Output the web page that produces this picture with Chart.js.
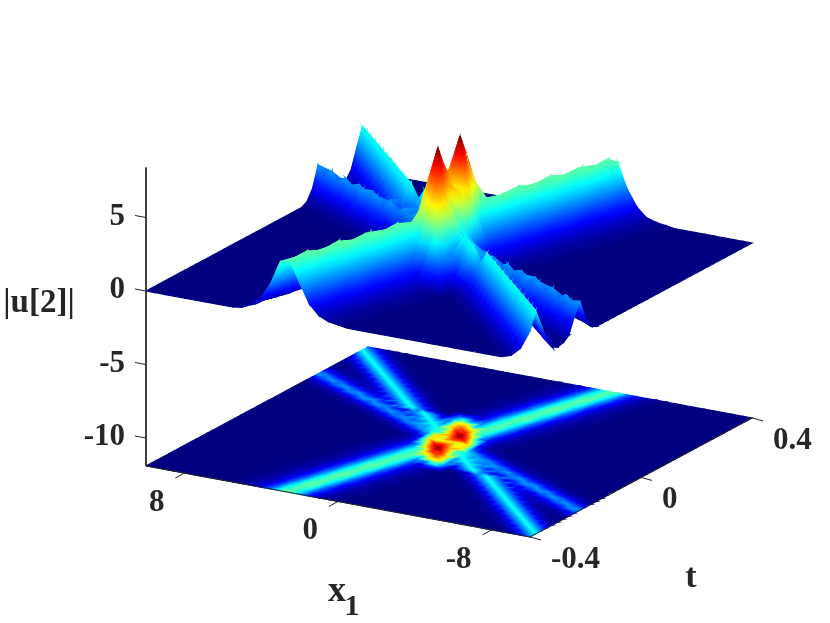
<!DOCTYPE html>
<html lang="en">
<head>
<meta charset="UTF-8" />
<title>|u[2]| surface</title>
<script src="https://cdn.jsdelivr.net/npm/chart.js"></script>
<style>
  html, body { margin: 0; padding: 0; background: #fff; }
  #wrap { width: 830px; height: 623px; }
</style>
</head>
<body>
<div id="wrap"><canvas id="surface"></canvas></div>
<script>
const x1Grid = [10,9.5,9,8.5,8,7.5,7,6.5,6,5.5,5,4.5,4,3.5,3,2.5,2,1.5,1,0.5,0,-0.5,-1,-1.5,-2,-2.5,-3,-3.5,-4,-4.5,-5,-5.5,-6,-6.5,-7,-7.5,-8,-8.5,-9,-9.5,-10];
const tGrid = [-0.4,-0.38,-0.36,-0.34,-0.32,-0.3,-0.28,-0.26,-0.24,-0.22,-0.2,-0.18,-0.16,-0.14,-0.12,-0.1,-0.08,-0.06,-0.04,-0.02,0,0.02,0.04,0.06,0.08,0.1,0.12,0.14,0.16,0.18,0.2,0.22,0.24,0.26,0.28,0.3,0.32,0.34,0.36,0.38,0.4];
const zTicks = [5,0,-5,-10];
const x1Ticks = [8,0,-8];
const tTicks = [-0.4,0,0.4];
const floorZ = -11.9;
const zTop = 8.4;
const zMaxColor = 8.5;

// |u[2]|, in tenths. one row per t, one column per x1
const uTenths = [
[0,0,0,0,0,0,0,0,0,0,1,4,10,21,37,39,25,12,5,2,1,0,0,0,0,0,0,0,0,0,0,0,0,0,0,0,0,0,2,8,21],
[0,0,0,0,0,0,0,0,0,0,1,3,8,17,34,39,29,14,6,3,1,0,0,0,0,0,0,0,0,0,0,0,0,0,0,0,0,2,8,21,33],
[0,0,0,0,0,0,0,0,0,0,1,3,6,14,29,39,33,18,8,3,1,0,0,0,0,0,0,0,0,0,0,0,0,0,0,0,2,8,21,33,21],
[0,0,0,0,0,0,0,0,0,0,1,2,5,12,24,39,38,21,10,4,2,1,0,0,0,0,0,0,0,0,0,0,0,0,0,2,8,21,33,21,8],
[0,0,0,0,0,0,0,0,0,0,0,2,4,9,20,36,39,26,12,5,2,1,0,0,0,0,0,0,0,0,0,0,0,0,2,8,21,33,21,8,2],
[0,0,0,0,0,0,0,0,0,0,0,1,3,7,16,32,39,30,15,7,3,1,0,0,0,0,0,0,0,0,0,0,0,2,8,21,33,21,8,2,0],
[0,0,0,0,0,0,0,0,0,0,0,1,3,6,13,27,39,35,19,9,3,1,0,0,0,0,0,0,0,0,0,0,2,8,21,33,21,8,2,0,1],
[0,0,0,0,0,0,0,0,0,0,0,1,2,4,11,23,39,39,23,11,4,2,1,0,0,0,0,0,0,0,0,2,8,21,33,21,8,2,1,2,4],
[0,0,0,0,0,0,0,0,0,0,0,0,2,3,9,19,35,39,27,13,6,3,1,0,0,0,0,0,0,0,2,8,21,33,21,8,2,1,3,7,15],
[0,0,0,0,0,0,0,0,0,0,0,0,1,3,7,16,31,39,31,16,7,3,1,0,0,0,0,0,0,2,8,21,33,21,8,3,3,7,13,22,23],
[0,0,0,0,0,0,0,0,0,0,0,0,1,2,5,13,26,39,36,20,9,4,2,1,0,0,0,0,2,8,21,33,21,9,4,5,11,19,23,17,9],
[0,0,0,0,0,0,0,0,0,0,0,0,0,2,4,10,22,38,39,24,11,5,2,1,0,0,0,2,8,21,33,21,9,6,9,17,23,19,11,5,2],
[0,0,0,0,0,0,0,0,0,0,0,0,0,1,3,8,18,33,39,29,14,6,3,1,0,0,2,8,21,33,21,9,9,16,23,21,12,6,3,1,0],
[0,0,0,0,0,0,0,0,0,0,0,0,0,1,3,6,15,29,39,33,17,8,15,15,0,2,8,21,33,21,10,14,23,23,14,7,3,1,0,0,0],
[0,0,0,0,0,0,0,0,0,0,0,0,0,1,2,5,12,25,39,36,21,21,38,22,8,21,33,21,10,12,21,23,15,8,4,1,0,0,0,0,0],
[0,0,0,0,0,0,0,0,0,0,0,0,0,0,2,4,10,21,35,39,30,54,54,21,21,33,22,14,19,23,17,9,4,2,1,0,0,0,0,0,0],
[0,0,0,0,0,0,0,0,0,0,0,0,0,0,1,3,8,17,33,39,54,68,55,22,33,24,21,23,19,11,5,2,1,0,0,0,0,0,0,0,0],
[0,0,0,0,0,0,0,0,0,0,0,0,0,0,0,3,6,14,28,42,72,72,42,34,25,24,21,13,6,3,1,0,0,0,0,0,0,0,0,0,0],
[0,0,0,0,0,0,0,0,0,0,0,0,0,0,0,2,4,11,24,62,85,62,38,30,23,15,8,3,1,0,0,0,0,0,0,0,0,0,0,0,0],
[0,0,0,0,0,0,0,0,0,0,0,0,0,0,0,1,3,9,42,72,72,54,54,21,9,4,2,0,0,0,0,0,0,0,0,0,0,0,0,0,0],
[0,0,0,0,0,0,0,0,0,0,0,0,0,0,0,1,3,12,55,50,54,50,55,12,3,1,0,0,0,0,0,0,0,0,0,0,0,0,0,0,0],
[0,0,0,0,0,0,0,0,0,0,0,0,0,1,2,5,10,21,54,54,72,72,42,12,3,1,0,0,0,0,0,0,0,0,0,0,0,0,0,0,0],
[0,0,0,0,0,0,0,0,0,0,0,0,1,3,8,15,23,30,38,62,85,62,24,11,4,2,1,0,0,0,0,0,0,0,0,0,0,0,0,0,0],
[0,0,0,0,0,0,0,0,0,0,1,3,6,13,21,24,25,34,42,72,72,42,28,14,6,3,1,0,0,0,0,0,0,0,0,0,0,0,0,0,0],
[0,0,0,0,0,0,0,0,1,2,5,11,19,23,19,23,33,24,55,68,54,39,33,17,8,3,1,0,0,0,0,0,0,0,0,0,0,0,0,0,0],
[0,0,0,0,0,0,1,2,4,9,17,23,19,14,22,33,21,21,54,54,25,38,36,21,10,4,2,0,0,0,0,0,0,0,0,0,0,0,0,0,0],
[0,0,0,0,1,1,4,8,15,23,21,13,11,22,33,21,8,22,38,21,21,36,39,25,12,5,2,1,0,0,0,0,0,0,0,0,0,0,0,0,0],
[0,0,0,1,3,7,14,23,23,15,10,21,33,21,8,2,0,15,15,8,17,33,39,29,15,6,3,1,0,0,0,0,0,0,0,0,0,0,0,0,0],
[0,1,3,6,12,21,23,15,9,10,21,33,21,8,2,0,0,1,3,6,14,29,39,33,18,8,3,1,0,0,0,0,0,0,0,0,0,0,0,0,0],
[2,5,11,19,23,17,9,6,9,21,33,21,8,2,0,0,0,1,2,5,12,24,39,38,22,10,4,2,0,0,0,0,0,0,0,0,0,0,0,0,0],
[9,17,23,19,11,5,3,8,21,33,21,8,2,0,0,0,0,0,2,4,9,20,36,39,26,13,5,2,1,0,0,0,0,0,0,0,0,0,0,0,0],
[23,21,13,6,3,3,8,21,33,21,8,2,0,0,0,0,0,0,1,3,7,16,31,39,31,16,7,3,1,0,0,0,0,0,0,0,0,0,0,0,0],
[15,8,3,1,2,8,21,33,21,8,2,0,0,0,0,0,0,0,1,3,6,13,27,39,35,19,9,3,2,0,0,0,0,0,0,0,0,0,0,0,0],
[4,2,1,2,8,21,33,21,8,2,0,0,0,0,0,0,0,0,1,2,4,11,23,39,39,23,11,4,2,1,0,0,0,0,0,0,0,0,0,0,0],
[1,0,2,8,21,33,21,8,2,0,0,0,0,0,0,0,0,0,0,1,3,9,19,35,39,27,13,6,3,1,0,0,0,0,0,0,0,0,0,0,0],
[0,2,8,21,33,21,8,2,0,0,0,0,0,0,0,0,0,0,0,1,3,7,15,30,39,32,16,7,3,1,0,0,0,0,0,0,0,0,0,0,0],
[2,8,21,33,21,8,2,0,0,0,0,0,0,0,0,0,0,0,0,1,2,5,12,26,39,36,20,9,4,2,0,0,0,0,0,0,0,0,0,0,0],
[8,21,33,21,8,2,0,0,0,0,0,0,0,0,0,0,0,0,0,0,2,4,10,21,38,39,24,12,5,2,1,0,0,0,0,0,0,0,0,0,0],
[21,33,21,8,2,0,0,0,0,0,0,0,0,0,0,0,0,0,0,0,1,3,8,18,33,39,29,14,6,3,1,0,0,0,0,0,0,0,0,0,0],
[33,21,8,2,0,0,0,0,0,0,0,0,0,0,0,0,0,0,0,0,1,3,6,14,29,39,33,17,8,3,1,0,0,0,0,0,0,0,0,0,0],
[21,8,2,0,0,0,0,0,0,0,0,0,0,0,0,0,0,0,0,0,1,2,5,12,24,39,38,21,10,4,2,1,0,0,0,0,0,0,0,0,0]
];

// fixed 3d view, x scale is in pixels across and y scale is in z units
const pxPerZ = 14.7;
function view(x1, t, z) {
  const a = (10 - x1) / 20;
  const b = (t + 0.4) / 0.8;
  return { x: 146 + 384 * a + 222 * b, y: z - (71 * a - 119 * b) / pxPerZ };
}

function jet(z) {
  const v = Math.min(1, Math.max(0, z / zMaxColor));
  const c = d => Math.round(255 * Math.min(1, Math.max(0, 1.5 - Math.abs(4 * v - d))));
  return `rgb(${c(3)},${c(2)},${c(1)})`;
}

// smooth colour across one triangle, follows the slope of z on screen
function shade(ctx) {
  const cell = ctx.dataset.cell;
  if (!cell) return '#000';
  if (cell.paint) return cell.paint;
  const zs = cell.zs;
  const lo = Math.min(...zs), hi = Math.max(...zs);
  const mean = (zs[0] + zs[1] + zs[2]) / 3;
  const flat = jet(mean);
  if (hi - lo < 0.05) return flat;
  const sx = ctx.chart.scales.x, sy = ctx.chart.scales.y;
  const p = ctx.dataset.data.slice(0, 3).map(d => [sx.getPixelForValue(d.x), sy.getPixelForValue(d.y)]);
  // scales are not laid out yet on the first pass
  if (!p.every(q => isFinite(q[0]) && isFinite(q[1]))) return flat;
  const ax = p[1][0] - p[0][0], ay = p[1][1] - p[0][1];
  const bx = p[2][0] - p[0][0], by = p[2][1] - p[0][1];
  const dza = zs[1] - zs[0], dzb = zs[2] - zs[0];
  const det = ax * by - ay * bx;
  if (Math.abs(det) < 0.5) return flat;
  const gx = (dza * by - dzb * ay) / det, gy = (ax * dzb - bx * dza) / det;
  const n = gx * gx + gy * gy;
  if (n < 1e-8) return flat;
  const cx = (p[0][0] + p[1][0] + p[2][0]) / 3, cy = (p[0][1] + p[1][1] + p[2][1]) / 3;
  const grad = ctx.chart.ctx.createLinearGradient(
    cx + gx * (lo - mean) / n, cy + gy * (lo - mean) / n,
    cx + gx * (hi - mean) / n, cy + gy * (hi - mean) / n);
  for (let s = 0; s <= 4; s++) grad.addColorStop(s / 4, jet(lo + (hi - lo) * s / 4));
  cell.paint = grad;
  return grad;
}

const marks = [];

function addPolygon(pts, zs) {
  marks.push({
    data: pts.concat([pts[0]]), cell: { zs }, fill: 'shape',
    backgroundColor: shade, borderColor: shade,
    borderWidth: 1.2, pointRadius: 0, tension: 0
  });
}

function addCells(zOf) {
  for (let j = tGrid.length - 2; j >= 0; j--) {
    for (let i = 0; i < x1Grid.length - 1; i++) {
      const corners = [[i, j], [i + 1, j], [i + 1, j + 1], [i, j + 1]];
      const zs = corners.map(([c, r]) => uTenths[r][c] / 10);
      const pts = corners.map(([c, r], k) => view(x1Grid[c], tGrid[r], zOf(zs[k])));
      if (Math.max(...zs) === Math.min(...zs)) {
        addPolygon(pts, zs.slice(0, 3));
      } else if (zs[0] + zs[2] >= zs[1] + zs[3]) {
        // split along the higher diagonal so ridges stay clean
        addPolygon([pts[0], pts[2], pts[3]], [zs[0], zs[2], zs[3]]);
        addPolygon([pts[0], pts[1], pts[2]], [zs[0], zs[1], zs[2]]);
      } else {
        addPolygon([pts[0], pts[1], pts[3]], [zs[0], zs[1], zs[3]]);
        addPolygon([pts[1], pts[2], pts[3]], [zs[1], zs[2], zs[3]]);
      }
    }
  }
}

function axisLine(a, b) {
  marks.push({ data: [a, b], borderColor: '#262626', borderWidth: 1, pointRadius: 0, fill: false });
}

addCells(() => floorZ);
addCells(z => z);

axisLine(view(10, -0.4, zTop), view(10, -0.4, floorZ));
axisLine(view(10, -0.4, floorZ), view(-10, -0.4, floorZ));
axisLine(view(-10, -0.4, floorZ), view(-10, 0.4, floorZ));
zTicks.forEach(z => {
  const p = view(10, -0.4, z);
  axisLine(p, { x: p.x - 11, y: p.y + 2 / pxPerZ });
});
x1Ticks.forEach(v => {
  const p = view(v, -0.4, floorZ);
  axisLine(p, { x: p.x - 9, y: p.y - 5 / pxPerZ });
});
tTicks.forEach(v => {
  const p = view(-10, v, floorZ);
  axisLine(p, { x: p.x + 11, y: p.y - 3 / pxPerZ });
});

// chart.js paints the first dataset last
marks.reverse();

const axisLabels = {
  id: 'axisLabels',
  afterDraw(chart) {
    const c = chart.ctx, sx = chart.scales.x, sy = chart.scales.y;
    const put = (text, p, dx, dy, align, size) => {
      c.font = `bold ${size}px "Liberation Serif", "Times New Roman", serif`;
      c.textAlign = align;
      c.textBaseline = 'middle';
      c.fillStyle = '#262626';
      c.fillText(text, sx.getPixelForValue(p.x) + dx, sy.getPixelForValue(p.y) + dy);
    };
    c.save();
    zTicks.forEach(z => put(String(z), view(10, -0.4, z), -21, -1, 'right', 31));
    x1Ticks.forEach(v => put(String(v), view(v, -0.4, floorZ), -20, 30, 'right', 31));
    tTicks.forEach(v => put(String(v), view(-10, v, floorZ), 21, 23, 'left', 31));
    put('|u[2]|', view(10, -0.4, 0), -107, 12, 'center', 33);
    put('x', view(0, -0.4, floorZ), -1, 90, 'center', 36);
    put('1', view(0, -0.4, floorZ), 14, 106, 'center', 30);
    put('t', view(-10, 0, floorZ), 50, 101, 'center', 34);
    c.restore();
  }
};

new Chart(document.getElementById('surface'), {
  type: 'line',
  data: { datasets: marks },
  options: {
    responsive: true,
    maintainAspectRatio: false,
    animation: false,
    events: [],
    layout: { padding: 0 },
    clip: false,
    plugins: { legend: { display: false }, tooltip: { enabled: false } },
    scales: {
      x: { type: 'linear', min: 0, max: 830, display: false },
      y: { type: 'linear', min: -332 / pxPerZ, max: 291 / pxPerZ, display: false }
    }
  },
  plugins: [axisLabels]
});
</script>
</body>
</html>
